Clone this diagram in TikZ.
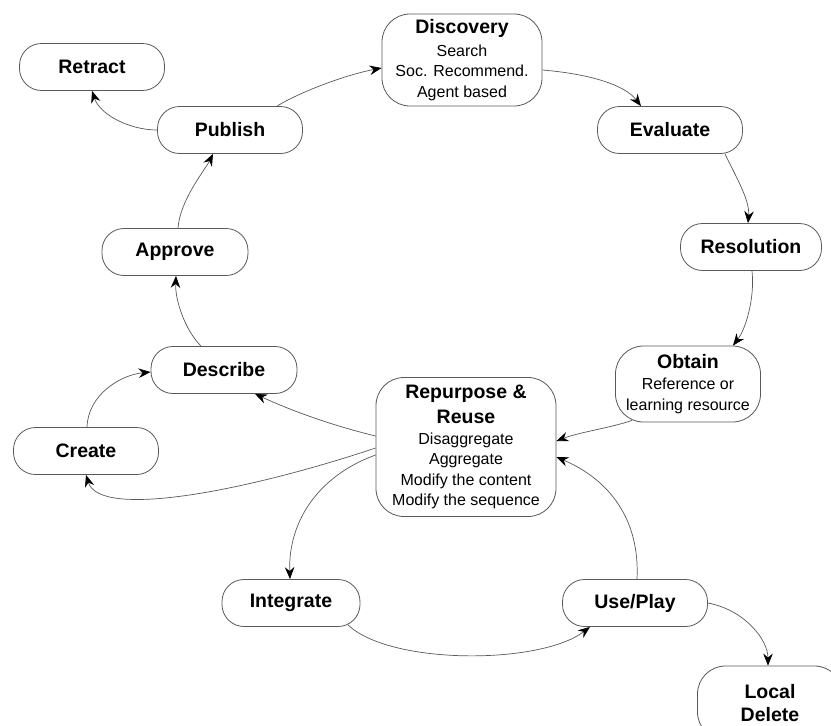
\documentclass[tikz,border=0pt]{standalone}
\usepackage{fontspec}
\setmainfont{Liberation Sans}
\usetikzlibrary{arrows.meta,calc}

\newcommand{\stagehead}[1]{{\fontsize{19.5}{24}\selectfont\bfseries #1}}

\tikzset{
  stage/.style={draw=black!65, line width=0.8pt, fill=white, rounded corners=22pt,
    minimum width=145pt, minimum height=47pt, inner sep=2pt, align=center,
    font=\fontsize{16}{20.5}\selectfont},
  flow/.style={draw=black!65, line width=0.7pt,
    -{Stealth[length=12pt,width=9.5pt,inset=4pt,black]}},
}

\begin{document}
\begin{tikzpicture}[x=1pt,y=-1pt]
\clip (0,0) rectangle (831,726);
\fill[white] (0,0) rectangle (831,726);

% life-cycle stages
\node[stage, minimum width=160pt, minimum height=92pt, rounded corners=28pt] (disc) at (462,60)
  {\stagehead{Discovery}\\[2.5pt]Search\\Soc. Recommend.\\Agent based};
\node[stage] (retract) at (92,67) {\stagehead{Retract}};
\node[stage] (publish) at (230,130) {\stagehead{Publish}};
\node[stage] (eval) at (670,130) {\stagehead{Evaluate}};
\node[stage, minimum width=141pt] (resol) at (751,247) {\stagehead{Resolution}};
\node[stage, minimum width=146pt] (approve) at (175,252) {\stagehead{Approve}};
\node[stage, minimum width=146pt] (describe) at (224,370) {\stagehead{Describe}};
\node[stage, minimum height=76pt, rounded corners=28pt] (obtain) at (688,384)
  {\stagehead{Obtain}\\[1pt]Reference or\\learning resource};
\node[stage, minimum width=180pt, minimum height=139pt, rounded corners=28pt] (repur) at (466,447)
  {\stagehead{Repurpose \&}\\[4.5pt]\stagehead{Reuse}\\Disaggregate\\Aggregate\\Modify the content\\Modify the sequence};
\node[stage] (create) at (86,451) {\stagehead{Create}};
\node[stage, minimum width=138pt] (integ) at (291,603) {\stagehead{Integrate}};
\node[stage] (use) at (635,603) {\stagehead{Use/Play}};
\node[stage, minimum height=74pt, rounded corners=28pt] (locdel) at (770,703)
  {\stagehead{Local}\\[3pt]\stagehead{Delete}};

% transitions
\draw[flow] ($(publish.north)+(47,0)$) .. controls (300,92) and (345,75) .. ($(disc.west)+(0,8)$);
\draw[flow] ($(disc.east)+(0,10)$) .. controls (590,74) and (625,85) .. ($(eval.north)+(-29,0)$);
\draw[flow] ($(eval.south)+(55,0)$) .. controls (735,175) and (750,200) .. ($(resol.north)+(-3,0)$);
\draw[flow] ($(resol.south)+(1,0)$) .. controls (755,300) and (745,330) .. ($(obtain.north)+(45,0)$);
\draw[flow] ($(obtain.south)+(-56,-2)$) .. controls (610,428) and (580,432) .. ($(repur.east)+(0,-6)$);
\draw[flow] ($(use.north)+(2,0)$) .. controls (640,520) and (610,480) .. ($(repur.east)+(0,10)$);
\draw[flow] ($(repur.west)+(0,-11)$) .. controls (330,425) and (290,410) .. ($(describe.south)+(31,0)$);
\draw[flow] ($(repur.west)+(0,1)$) .. controls (250,490) and (100,520) .. (create.south);
\draw[flow] ($(repur.west)+(0,8)$) .. controls (320,475) and (288,520) .. ($(integ.north)+(-1,0)$);
\draw[flow] ($(integ.south)+(57,-2)$) .. controls (390,665) and (540,665) .. ($(use.south)+(-45,0)$);
\draw[flow] (use.east) .. controls (745,610) and (768,640) .. ($(locdel.north)+(-2,0)$);
\draw[flow] ($(create.north)+(1,0)$) .. controls (88,395) and (120,375) .. ($(describe.west)+(0,2)$);
\draw[flow] ($(describe.north)+(-23,0)$) .. controls (185,330) and (175,300) .. ($(approve.south)+(1,0)$);
\draw[flow] ($(approve.north)+(3,0)$) .. controls (180,200) and (205,170) .. ($(publish.south)+(-17,0)$);
\draw[flow] (publish.west) .. controls (130,130) and (100,115) .. (retract.south);
\end{tikzpicture}
\end{document}
